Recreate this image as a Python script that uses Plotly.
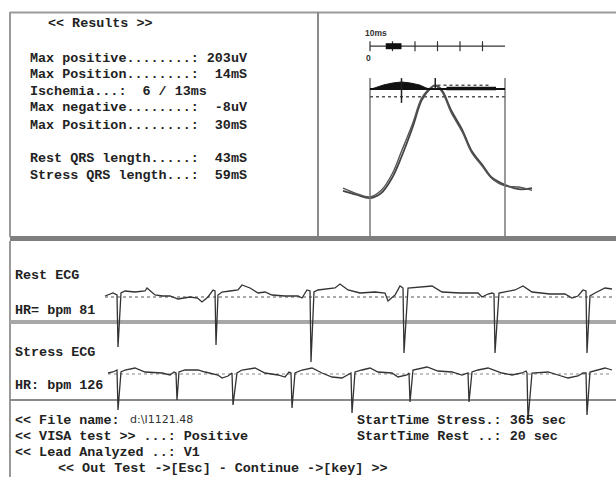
import plotly.graph_objects as go

W, H = 616, 477

# ---------------- data ----------------
results_title = "<< Results >>"
results_lines = [
    "Max positive........: 203uV",
    "Max Position........:  14mS",
    "Ischemia...:  6 / 13ms",
    "Max negative........:  -8uV",
    "Max Position........:  30mS",
    "Rest QRS length.....:  43mS",
    "Stress QRS length...:  59mS",
]
ecg_labels = ["Rest ECG", "HR= bpm 81", "Stress ECG", "HR: bpm 126"]
bottom_left = ["<< File name:", "<< VISA test >> ...: Positive", "<< Lead Analyzed ..: V1"]
file_name = "d:\\I1121.48"
bottom_right = ["StartTime Stress.: 365 sec", "StartTime Rest ..: 20 sec"]
footer = "<< Out Test ->[Esc] - Continue ->[key] >>"
scale_label = "10ms"
scale_zero = "0"

# averaged QRS complexes (ms, uV)
avg_ms = [-12, -6, 0, 5, 10, 14, 19, 23, 27, 29, 32, 36, 41, 45, 50, 54, 60, 66, 72]
rest_avg_uV = [13, 6, 0, 9, 38, 75, 129, 178, 200, 205, 196, 160, 124, 87, 60, 38, 24, 16, 18]
stress_avg_uV = [18, 8, 2, 14, 45, 85, 136, 182, 201, 204, 193, 156, 120, 84, 57, 36, 22, 20, 14]

window_ms = [0, 60]
window_top_uV = 218
level_uV = 198
ref_dotted_uV = 184
hump_ms = [0, 2, 6, 10, 14, 18, 22, 25, 27]
hump_uV = [198, 200, 205.5, 209, 211, 209, 205.5, 200, 198]
band_ms = [34, 56]
band_uV = 199
band_dots_ms = [30, 53]
band_dots_uV = 205
marker_ms = [14, 29]
marker_low_uV = [173, 198]

scale_uV = 276
scale_ticks_ms = [0, 10, 20, 30, 40, 50]
scale_end_ms = 60
scale_blob_ms = [7, 14]

# ECG strips (ms, uV)
rest_ms = [0, 64, 96, 104, 128, 160, 240, 320, 336, 400, 460, 520, 584, 680, 740, 776, 824, 864, 880, 888,
           904, 936, 1000, 1064, 1096, 1160, 1224, 1280, 1336, 1440, 1544, 1576, 1616, 1640, 1648, 1672,
           1704, 1840, 1880, 1944, 2040, 2160, 2240, 2264, 2320, 2360, 2384, 2392, 2424, 2536, 2616, 2696,
           2840, 2984, 3016, 3064, 3096, 3112, 3120, 3152, 3280, 3344, 3416, 3560, 3680, 3736, 3784, 3824,
           3848, 3856, 3880, 3920, 4000, 4056]
rest_uV = [0, 60, 20, -1020, 60, 100, 80, 100, 160, 20, 0, 0, -60, -20, -40, -120, -20, 120, 100, -980,
           20, 80, 100, 120, 220, 160, 60, 80, 20, 0, 0, -40, 120, 100, -1320, 80,
           120, 160, 240, 120, 60, 80, 60, -100, 20, 200, 160, -1140, 160, 180, 200, 80,
           60, 60, -20, 40, 60, 40, -1140, 60, 120, 200, 80, 40, 40, -40, 0, 120,
           100, -1140, 0, 60, 160, 140]

stress_ms = [24, 64, 96, 104, 128, 160, 240, 320, 456, 520, 552, 568, 576, 592, 640, 744, 800, 904, 936, 984,
             1016, 1024, 1056, 1096, 1200, 1280, 1384, 1440, 1472, 1488, 1496, 1520, 1576, 1656, 1736, 1816,
             1896, 1936, 1968, 1976, 2000, 2056, 2120, 2184, 2296, 2344, 2416, 2432, 2440, 2464, 2576, 2664,
             2776, 2856, 2896, 2904, 2912, 2936, 2984, 3064, 3176, 3256, 3336, 3368, 3376, 3384, 3416, 3544,
             3624, 3704, 3784, 3824, 3848, 3856, 3880, 3944, 4000, 4056]
stress_uV = [0, 20, 60, -740, 20, 60, 100, 20, 0, -40, 20, 0, -540, 20, 60, 60, 20, -40, -100, -60,
             0, -640, 0, 60, 100, 0, -40, -80, 20, 0, -700, 0, 60, 100, 0, -80,
             -100, -40, 0, -800, 20, 60, 100, 20, 0, -80, -40, 0, -580, 60, 120, 40,
             20, -40, 0, 0, -580, 20, 60, 100, 0, -40, 0, 40, 0, -940, 0, 20,
             -40, -100, -60, 0, 0, -840, 20, 60, 100, 60]
ecg_baseline_uV = -20

# ---------------- figure ----------------
fig = go.Figure()

ink = "#222"

# right panel: averaged QRS
ax2 = dict(xaxis="x2", yaxis="y2")
fig.add_trace(go.Scatter(x=avg_ms, y=rest_avg_uV, mode="lines",
                         line=dict(color="#444", width=1.8, shape="spline", smoothing=1), **ax2))
fig.add_trace(go.Scatter(x=avg_ms, y=stress_avg_uV, mode="lines",
                         line=dict(color="#555", width=1.4, shape="spline", smoothing=1), **ax2))
for wm in window_ms:
    fig.add_trace(go.Scatter(x=[wm, wm], y=[window_top_uV, -80], mode="lines",
                             line=dict(color="#777", width=1.5), **ax2))
fig.add_trace(go.Scatter(x=window_ms, y=[ref_dotted_uV] * 2, mode="lines",
                         line=dict(color="#555", width=1.5, dash="dot"), **ax2))
fig.add_trace(go.Scatter(x=hump_ms, y=hump_uV, mode="lines", fill="toself", fillcolor="#111",
                         line=dict(color="#111", width=1), **ax2))
fig.add_trace(go.Scatter(x=window_ms, y=[level_uV] * 2, mode="lines", line=dict(color="#111", width=2), **ax2))
fig.add_trace(go.Scatter(x=band_ms, y=[band_uV] * 2, mode="lines", line=dict(color="#111", width=3.5), **ax2))
fig.add_trace(go.Scatter(x=band_dots_ms, y=[band_dots_uV] * 2, mode="lines",
                         line=dict(color="#555", width=1.5, dash="dot"), **ax2))
for m, lo in zip(marker_ms, marker_low_uV):
    fig.add_trace(go.Scatter(x=[m, m], y=[lo, window_top_uV], mode="lines",
                             line=dict(color="#222", width=1.5), **ax2))
# scale bar
fig.add_trace(go.Scatter(x=[scale_ticks_ms[0], scale_end_ms], y=[scale_uV] * 2, mode="lines",
                         line=dict(color="#333", width=1.2), **ax2))
tx, ty = [], []
for t in scale_ticks_ms:
    tx += [t, t, None]
    ty += [scale_uV - 9, scale_uV + 9, None]
fig.add_trace(go.Scatter(x=tx, y=ty, mode="lines", line=dict(color="#333", width=1.2), **ax2))
fig.add_trace(go.Scatter(x=scale_blob_ms, y=[scale_uV] * 2, mode="lines", line=dict(color="#111", width=6), **ax2))

# ECG strips
fig.add_trace(go.Scatter(x=[rest_ms[0], rest_ms[-1]], y=[ecg_baseline_uV] * 2, mode="lines",
                         line=dict(color="#555", width=1.2, dash="dot"), xaxis="x3", yaxis="y3"))
fig.add_trace(go.Scatter(x=rest_ms, y=rest_uV, mode="lines", line=dict(color="#333", width=1.3),
                         xaxis="x3", yaxis="y3"))
fig.add_trace(go.Scatter(x=[stress_ms[0], stress_ms[-1]], y=[ecg_baseline_uV] * 2, mode="lines",
                         line=dict(color="#888", width=1, dash="dot"), xaxis="x3", yaxis="y4"))
fig.add_trace(go.Scatter(x=stress_ms, y=stress_uV, mode="lines", line=dict(color="#333", width=1.3),
                         xaxis="x3", yaxis="y4"))

# ---------------- frame ----------------
def px_x(px):
    return px / W

def px_y(py):
    return 1 - py / H

def line(x0, y0, x1, y1, color, width):
    fig.add_shape(type="line", xref="paper", yref="paper", x0=px_x(x0), x1=px_x(x1),
                  y0=px_y(y0), y1=px_y(y1), line=dict(color=color, width=width), layer="below")

line(10, 12.5, 616, 12.5, "#9a9a9a", 2)
line(10, 12, 10, 237, "#9a9a9a", 2)
line(318, 12, 318, 237, "#8a8a8a", 2)
line(10, 238.5, 616, 238.5, "#7f7f7f", 5)
line(10, 241, 10, 477, "#9a9a9a", 2)
line(10, 322, 616, 322, "#a8a8a8", 4)
line(10, 400, 616, 400, "#8a8a8a", 2)

# ---------------- text ----------------
def esc(s):
    return s.replace("&", "&amp;").replace("<", "&lt;").replace(">", "&gt;").replace(" ", "\u00a0")

def text(px, py, s, size=13.4, family="Liberation Mono", bold=True, color=ink):
    t = esc(s)
    if bold:
        t = "<b>" + t + "</b>"
    fig.add_annotation(x=px_x(px), y=px_y(py), xref="paper", yref="paper", text=t, showarrow=False,
                       xanchor="left", yanchor="middle", borderpad=0,
                       font=dict(family=family, size=size, color=color))

text(47, 24, results_title)
ys = [58, 75, 91, 108, 125, 158, 175]
for s, y in zip(results_lines, ys):
    text(29, y, s)

for s, y in zip(ecg_labels, [275, 310, 352, 385]):
    text(14, y, s)

for s, y in zip(bottom_left, [420, 436, 452]):
    text(14, y, s)
text(129, 419, file_name, size=11, family="DejaVu Sans", bold=False, color="#333")
for s, y in zip(bottom_right, [420, 436]):
    text(356, y, s)
text(57, 468, footer)

text(364, 33, scale_label, size=8.5, family="Liberation Sans", bold=True, color="#333")
text(365, 58, scale_zero, size=8.5, family="Liberation Sans", bold=True, color="#333")

# ---------------- layout ----------------
hidden = dict(visible=False, showgrid=False, zeroline=False, fixedrange=True)
fig.update_layout(
    width=W, height=H, margin=dict(l=0, r=0, t=0, b=0),
    paper_bgcolor="white", plot_bgcolor="rgba(0,0,0,0)", showlegend=False,
    xaxis2=dict(domain=[318 / W, 1], range=[-23.11, 109.33], anchor="y2", **hidden),
    yaxis2=dict(domain=[1 - 237 / H, 1 - 12 / H], range=[-70.9, 338.2], anchor="x2", **hidden),
    xaxis3=dict(domain=[10 / W, 1], range=[-760, 4088], anchor="y3", **hidden),
    yaxis3=dict(domain=[1 - 400 / H, 1 - 241 / H], range=[-2080, 1100], anchor="x3", **hidden),
    yaxis4=dict(domain=[0, 1 - 322 / H], range=[-2080, 1020], anchor="x3", **hidden),
)

fig.write_html("out.html")
